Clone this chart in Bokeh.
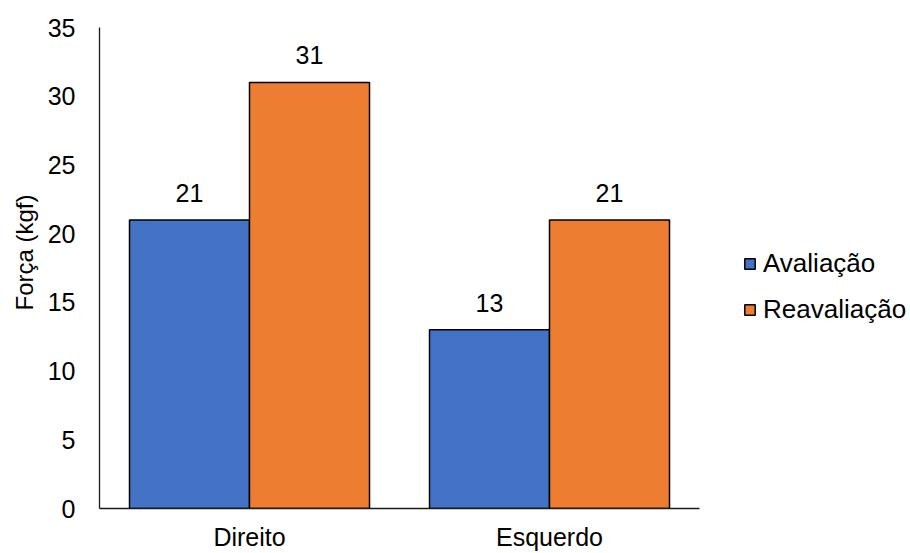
from bokeh.plotting import figure
from bokeh.models import ColumnDataSource, LabelSet, Legend, LegendItem, Range1d, FixedTicker, Title
from bokeh.core.properties import value
from bokeh.embed import file_html
from bokeh.resources import INLINE

categories = ["Direito", "Esquerdo"]
avaliacao = [21, 13]
reavaliacao = [31, 21]
series_names = ["Avaliação", "Reavaliação"]
y_ticks = [0, 5, 10, 15, 20, 25, 30, 35]
y_label = "Força (kgf)"

FONT = "Liberation Sans"
FS = "25px"
FS_BIG = "26px"
BLUE = "#4472C4"
ORANGE = "#ED7D31"
BAR_W = 0.4

# category slots: category i occupies [i, i+1] on the x scale
centers = [i + 0.5 for i in range(len(categories))]
src = ColumnDataSource(dict(
    xa=[c - BAR_W / 2 for c in centers],
    xr=[c + BAR_W / 2 for c in centers],
    a=avaliacao,
    r=reavaliacao,
    a_txt=[str(v) for v in avaliacao],
    r_txt=[str(v) for v in reavaliacao],
))

# the frame extends into the legend area on the right; the axis line is bounded to the categories
x_end = len(categories) * (811 / 600)
p = figure(width=910, height=553, output_backend="svg", toolbar_location=None,
           x_range=Range1d(0, x_end), y_range=Range1d(0, 35),
           min_border_left=99, min_border_right=0, min_border_top=27, min_border_bottom=43)
p.background_fill_color = "white"
p.border_fill_color = "white"
p.outline_line_color = None
p.xgrid.grid_line_color = None
p.ygrid.grid_line_color = None

ra = p.vbar(x="xa", top="a", width=BAR_W, source=src,
            fill_color=BLUE, line_color="black", line_width=1.5)
rr = p.vbar(x="xr", top="r", width=BAR_W, source=src,
            fill_color=ORANGE, line_color="black", line_width=1.5)

for col, txt, xc in (("a", "a_txt", "xa"), ("r", "r_txt", "xr")):
    p.add_layout(LabelSet(x=xc, y=col, text=txt, source=src,
                          text_align="center", text_baseline="alphabetic", y_offset=18,
                          text_font=value(FONT), text_font_size=value(FS), text_color="black"))

p.yaxis.ticker = y_ticks
p.yaxis.major_label_text_font = FONT
p.yaxis.major_label_text_font_size = FS
p.yaxis.major_label_text_color = "black"
p.yaxis.major_label_standoff = 24
p.yaxis.major_tick_out = 0
p.yaxis.major_tick_in = 0
p.yaxis.major_tick_line_color = None
p.yaxis.minor_tick_line_color = None
p.yaxis.axis_line_color = "#1a1a1a"
p.yaxis.axis_line_width = 1.3

p.add_layout(Title(text=y_label, align="left", offset=198, standoff=13,
                   text_font=FONT, text_font_size="24px", text_font_style="normal",
                   text_color="black"), "left")

p.xaxis.ticker = FixedTicker(ticks=centers)
p.xaxis.major_label_overrides = {c: name for c, name in zip(centers, categories)}
p.xaxis.bounds = (0, len(categories))
p.xaxis.major_label_text_font = FONT
p.xaxis.major_label_text_font_size = FS
p.xaxis.major_label_text_color = "black"
p.xaxis.major_label_standoff = 14
p.xaxis.major_tick_out = 0
p.xaxis.major_tick_in = 0
p.xaxis.major_tick_line_color = None
p.xaxis.minor_tick_line_color = None
p.xaxis.axis_line_color = "#1a1a1a"
p.xaxis.axis_line_width = 1.3

legend = Legend(items=[LegendItem(label=series_names[0], renderers=[ra]),
                       LegendItem(label=series_names[1], renderers=[rr])],
                location=(644, 183), orientation="vertical",
                label_text_font=FONT, label_text_font_size=FS_BIG, label_text_color="black",
                glyph_width=13, glyph_height=13, spacing=15, padding=0, margin=0,
                label_standoff=7, background_fill_alpha=0, border_line_color=None)
p.add_layout(legend)

open("out.html", "w").write(file_html(p, INLINE))
